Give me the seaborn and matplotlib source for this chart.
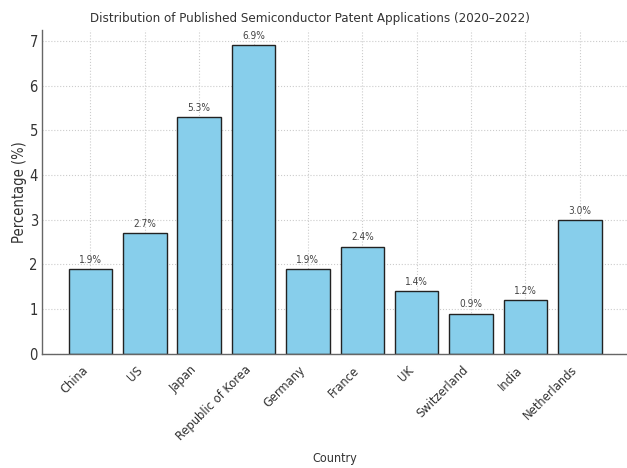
import matplotlib
matplotlib.use("Agg")
import matplotlib.pyplot as plt
import seaborn as sns
import pandas as pd

# Data
countries = ['China', 'US', 'Japan', 'Republic of Korea', 'Germany',
             'France', 'UK', 'Switzerland', 'India', 'Netherlands']
shares = [1.9, 2.7, 5.3, 6.9, 1.9, 2.4, 1.4, 0.9, 1.2, 3.0]

df = pd.DataFrame({'Country': countries, 'Percentage': shares})

sns.set_style("white")
plt.rcParams['font.family'] = ['DejaVu Sans']
plt.rcParams['font.stretch'] = 'condensed'

fig = plt.figure(figsize=(6.27, 4.68), dpi=100)
ax = fig.add_axes([0.067, 0.244, 0.935, 0.692])

sns.barplot(data=df, x='Country', y='Percentage', color='skyblue',
            saturation=1, edgecolor='#222222', linewidth=1.0, width=0.8, ax=ax)

for c in ax.containers:
    ax.bar_label(c, fmt='%.1f%%', padding=3, fontsize=7.2, color='#444444')

# matplotlib default margins instead of seaborn's tight category limits
ax.set_xlim(-0.4 - 0.49, len(countries) - 0.6 + 0.49)
ax.set_ylim(0, max(shares) * 1.05)

# title sits centred on the figure, a bit left of the axes centre
fig.suptitle('Distribution of Published Semiconductor Patent Applications (2020–2022)',
             fontsize=9.5, color='#333333', x=0.495, y=0.961, va='center')
ax.set_xlabel('Country', fontsize=9, color='#333333', labelpad=6)
ax.set_ylabel('Percentage (%)', fontsize=10.5, color='#333333', labelpad=1.5)
ax.set_xticks(range(len(countries)))
ax.set_xticklabels(countries, rotation=45, ha='right', fontsize=9.2, color='#333333')
ax.tick_params(axis='y', labelsize=10.5, labelcolor='#333333', pad=3)
ax.tick_params(axis='x', pad=7)
ax.tick_params(direction='in', length=3, color='#666666')

ax.grid(True, linestyle=':', color='#cccccc', linewidth=0.8)
ax.set_axisbelow(True)
sns.despine(ax=ax)
for s in ['left', 'bottom']:
    ax.spines[s].set_color('#666666')
    ax.spines[s].set_linewidth(1.0)

fig.savefig('out.png', dpi=100)
